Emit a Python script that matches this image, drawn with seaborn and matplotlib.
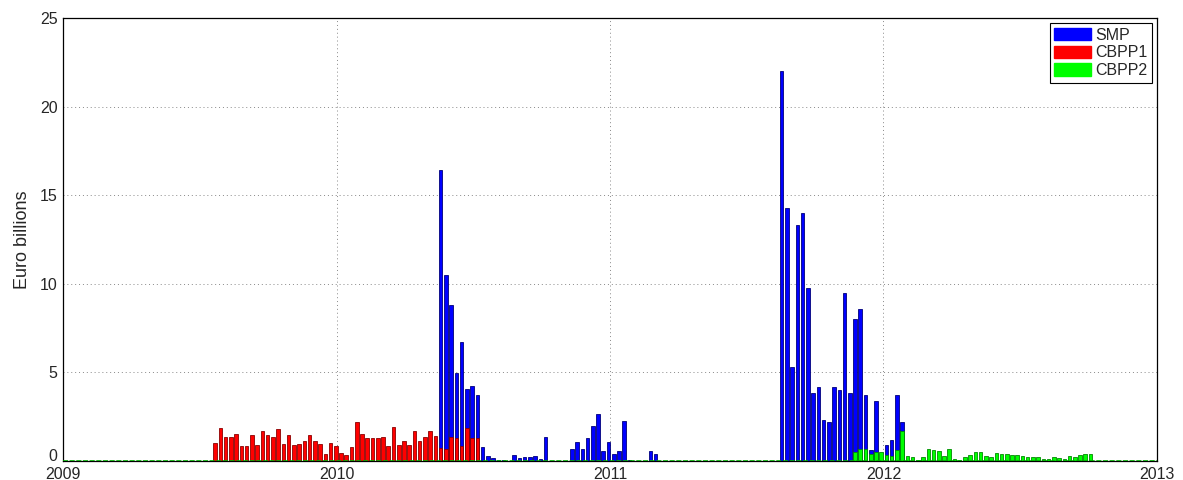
# weekly ECB bond purchases: SMP, CBPP1, CBPP2

import pandas as pd
import matplotlib.pyplot as plt
import matplotlib.transforms as mtrans
import seaborn as sns
from matplotlib.patches import Patch

# weekly purchase amounts (euro billions), each list starts at its date
cbpp1_start = "2009-07-23"
cbpp1 = [1.04, 1.84, 1.34, 1.33, 1.5, 0.87, 0.87, 1.44, 0.93, 1.67, 1.48, 1.33, 1.8,
         0.97, 1.46, 0.89, 0.97, 1.14, 1.44, 1.12, 0.97, 0.42, 1.04, 0.83, 0.45, 0.32,
         0.8, 2.2, 1.5, 1.31, 1.31, 1.31, 1.36, 0.87, 1.91, 0.89, 1.12, 0.93, 1.69,
         1.12, 1.34, 1.72, 1.4, 0.74, 0.66, 1.36, 1.29, 0.83, 1.88, 1.29, 1.29]

smp1_start = "2010-05-20"
smp1 = [16.4, 10.47, 8.8, 4.94, 6.74, 4.07, 4.24, 3.75, 0.8, 0.3, 0.17, 0.08, 0.03, 0,
        0.32, 0.15, 0.2, 0.25, 0.3, 0.13, 1.36, 0, 0, 0, 0, 0.68, 1.08, 0.68, 1.29,
        1.97, 2.67, 0.57, 1.08, 0.42, 0.59, 2.27, 0.08, 0, 0, 0, 0.57, 0.38]

smp2_start = "2011-08-18"
smp2 = [22.0, 14.28, 5.28, 13.3, 14.0, 9.79, 3.81, 4.19, 2.3, 2.2, 4.19, 4.0, 9.5,
        3.81, 8.0, 8.6, 3.7, 0.6, 3.4, 0, 0.89, 1.2, 3.7, 2.2]

cbpp2_start = "2011-11-24"
cbpp2 = [0.5, 0.7, 0.65, 0.4, 0.5, 0.5, 0.35, 0.3, 0.6, 1.7, 0.3, 0.2, 0.08, 0.25,
         0.7, 0.6, 0.55, 0.3, 0.7, 0.12, 0.08, 0.25, 0.35, 0.5, 0.5, 0.3, 0.2, 0.45,
         0.42, 0.42, 0.35, 0.35, 0.3, 0.22, 0.2, 0.2, 0.12, 0.1, 0.25, 0.15, 0.1, 0.3,
         0.2, 0.35, 0.4, 0.4]

names = ["SMP", "CBPP1", "CBPP2"]
colors = {"SMP": "#0000ff", "CBPP1": "#ff0000", "CBPP2": "#00ff00"}
edges = {"SMP": "#00007a", "CBPP1": "#8a0000", "CBPP2": "#008a00"}

# weekly grid over the whole period
weeks = pd.date_range("2009-01-01", "2012-12-31", freq="7D")


def series(start, vals):
    return pd.Series(vals, index=pd.date_range(start, periods=len(vals), freq="7D"))


df = pd.DataFrame(index=weeks)
df["SMP"] = pd.concat([series(smp1_start, smp1), series(smp2_start, smp2)])
df["CBPP1"] = series(cbpp1_start, cbpp1)
df["CBPP2"] = series(cbpp2_start, cbpp2)
df = df.fillna(0)
# decimal year for x
df["t"] = weeks.year + (weeks.dayofyear - 1) / (365 + weeks.is_leap_year)

sns.set_style("white")
plt.rcParams["font.family"] = ["Liberation Sans", "DejaVu Sans"]

fig = plt.figure(figsize=(11.83, 4.8), dpi=100)
ax = fig.add_axes([0.0533, 0.0396, 0.9247, 0.9229])

for name in names:
    sns.barplot(data=df, x="t", y=name, native_scale=True, color=colors[name],
                saturation=1, width=0.68, edgecolor=edges[name], linewidth=0.6,
                errorbar=None, ax=ax)

# zero-height bars show as a green line along the base
ax.axhline(0, color="#00b000", linewidth=1.2, linestyle=(0, (3, 1)), zorder=3)

ax.set_xlim(2009, 2013)
ax.set_ylim(0, 25)
ax.set_xticks([2009, 2010, 2011, 2012, 2013])
ax.set_xticklabels(["2009", "2010", "2011", "2012", "2013"])
ax.set_yticks([0, 5, 10, 15, 20, 25])
ax.set_xlabel("")
ax.set_ylabel("Euro billions", fontsize=13, labelpad=6)
ax.grid(True, linestyle=(0, (1, 3)), color="#888888", linewidth=0.7)
ax.set_axisbelow(True)
ax.tick_params(direction="in", length=4, labelsize=11.5, color="black")
ax.tick_params(axis="x", pad=4)
ax.tick_params(axis="y", pad=4)
for s in ax.spines.values():
    s.set_visible(True)
    s.set_color("black")
    s.set_linewidth(0.9)

# lift the "0" label a little, as in the original
lbl0 = ax.get_yticklabels()[0]
lbl0.set_transform(lbl0.get_transform() + mtrans.ScaledTranslation(0, 4 / 72, fig.dpi_scale_trans))

handles = [Patch(facecolor=colors[n], edgecolor=colors[n], label=n) for n in names]
leg = ax.legend(handles=handles, loc="upper right", fontsize=11.5, handlelength=2.3,
                handleheight=0.85, labelspacing=0.18, handletextpad=0.25,
                borderpad=0.3, borderaxespad=0.3, fancybox=False, framealpha=1)
leg.get_frame().set_edgecolor("black")
leg.get_frame().set_linewidth(0.8)

fig.savefig("out.png", dpi=100)
